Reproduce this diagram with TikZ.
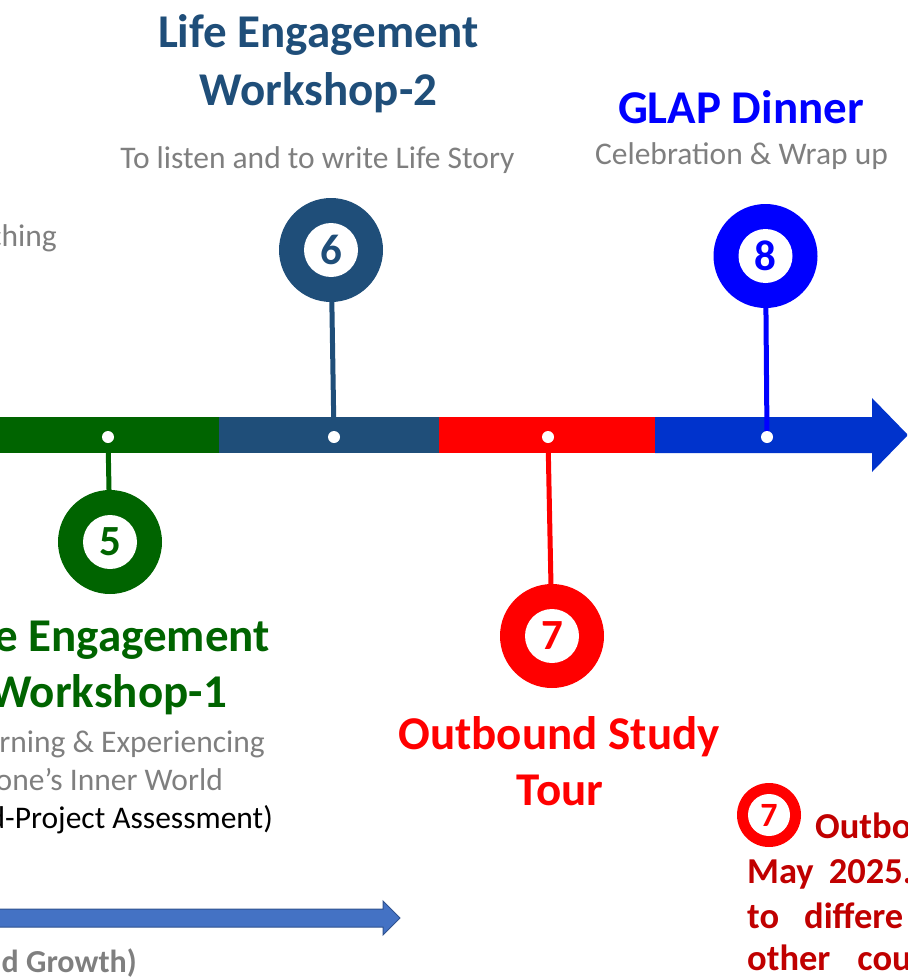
\documentclass[tikz,border=0pt]{standalone}
\usepackage{fontspec}
\setmainfont{Carlito}
\definecolor{wgreen}{HTML}{006400}
\definecolor{wdblue}{HTML}{1F4E79}
\definecolor{wred}{HTML}{FF0000}
\definecolor{barblue}{HTML}{0033CC}
\definecolor{pinblue}{HTML}{0000FF}
\definecolor{darkred}{HTML}{C00000}
\definecolor{txtgray}{HTML}{7F7F7F}
\definecolor{arrfill}{HTML}{4472C4}
\definecolor{arrline}{HTML}{2F528F}
\begin{document}
\begin{tikzpicture}[x=1pt,y=-1pt,
  title/.style={font=\fontsize{47}{47}\selectfont\bfseries, inner sep=0},
  sub/.style={font=\fontsize{31.5}{31.5}\selectfont, text=txtgray, inner sep=0},
  note/.style={font=\fontsize{36.5}{36.5}\selectfont\bfseries, text=darkred, inner sep=0},
  pin/.style={circle, minimum size=104pt, inner sep=0, fill=#1},
  hole/.style={circle, minimum size=54pt, inner sep=0, fill=white, text=#1,
    font=\fontsize{43}{43}\selectfont\bfseries},
  dot/.style={circle, minimum size=12pt, inner sep=0, fill=white},
  stem/.style={line width=5pt, draw=#1}]
\useasboundingbox (0,0) rectangle (907,979);
\clip (0,0) rectangle (907,979);

% timeline bar
\fill[wgreen] (-2,417) rectangle (219.5,453);
\fill[wdblue] (219,417) rectangle (439.5,453);
\fill[wred] (439,417) rectangle (655.5,453);
\fill[barblue] (655,417) -- (872,417) -- (872,398) -- (908,435) -- (872,472)
  -- (872,453) -- (655,453) -- cycle;

% anchor points of the pins
\coordinate (d5) at (108,437);
\coordinate (d6) at (334,437);
\coordinate (d7) at (548,437);
\coordinate (d8) at (767,437);
\coordinate (k5) at (110,542);
\coordinate (k6) at (331,250);
\coordinate (k7) at (552,636);
\coordinate (k8) at (765.5,256);

% stems
\draw[stem=wgreen] (d5) -- (k5);
\draw[stem=wdblue] (d6) -- (k6);
\draw[stem=wred] (d7) -- (k7);
\draw[stem=pinblue] (d8) -- (k8);

% pins
\node[pin=wgreen] (p5) at (k5) {};
\node[hole=wgreen] (n5) at (k5) {5};
\node[pin=wdblue] (p6) at (k6) {};
\node[hole=wdblue] (n6) at (k6) {6};
\node[pin=wred] (p7) at (k7) {};
\node[hole=wred] (n7) at (k7) {7};
\node[pin=pinblue] (p8) at (k8) {};
\node[hole=pinblue] (n8) at (k8) {8};

% dots on the bar
\node[dot] (o5) at (d5) {};
\node[dot] (o6) at (d6) {};
\node[dot] (o7) at (d7) {};
\node[dot] (o8) at (d8) {};

% step 6
\node[title, text=wdblue, anchor=base] (t6a) at (318.5,48) {Life Engagement};
\node[title, text=wdblue, anchor=base] (t6b) at (318.5,106) {Workshop-2};
\node[sub, anchor=base] (s6) at (317.5,168) {To listen and to write Life Story};

% step 8
\node[title, text=pinblue, anchor=base] (t8) at (741,124) {GLAP Dinner};
\node[sub, anchor=base] (s8) at (741.5,164) {Celebration \& Wrap up};

% step 7
\node[title, text=wred, anchor=base] (t7a) at (559,749) {Outbound Study};
\node[title, text=wred, anchor=base] (t7b) at (560,805) {Tour};

% step 5
\node[title, text=wgreen, anchor=base east] (t5a) at (270,651) {e Engagement};
\node[title, text=wgreen, anchor=base east] (t5b) at (227,707) {Workshop-1};
\node[sub, anchor=base east] (s5a) at (265,752) {rning \& Experiencing};
\node[sub, anchor=base east] (s5b) at (223,790) {one’s Inner World};
\node[sub, text=black, anchor=base east] (s5c) at (273,828) {d-Project Assessment)};

% left remnants
\node[sub, anchor=base east] (s4) at (57,246) {ching};

% growth arrow
\filldraw[fill=arrfill, draw=arrline, line width=1pt]
  (-5,909) -- (383,909) -- (383,901) -- (400,918) -- (383,935) -- (383,927)
  -- (-5,927) -- cycle;
\node[font=\fontsize{32}{32}\selectfont\bfseries, text=txtgray, inner sep=0,
  anchor=base east] (g) at (137,972) {d Growth)};

% note on step 7
\node[circle, minimum size=64pt, inner sep=0, fill=wred] (r7) at (769,815) {};
\node[circle, minimum size=42pt, inner sep=0, fill=white, text=wred,
  font=\fontsize{34}{34}\selectfont\bfseries] (r7n) at (r7) {7};
\node[note, anchor=base west] (m1) at (815,838) {Outbo};
\node[note, anchor=base west] (m2) at (747,883) {May\hspace{15pt}2025.};
\node[note, anchor=base west] (m3) at (747,928) {to\hspace{25pt}differe};
\node[note, anchor=base west] (m4) at (747,970) {other\hspace{27pt}cou};
\end{tikzpicture}
\end{document}
